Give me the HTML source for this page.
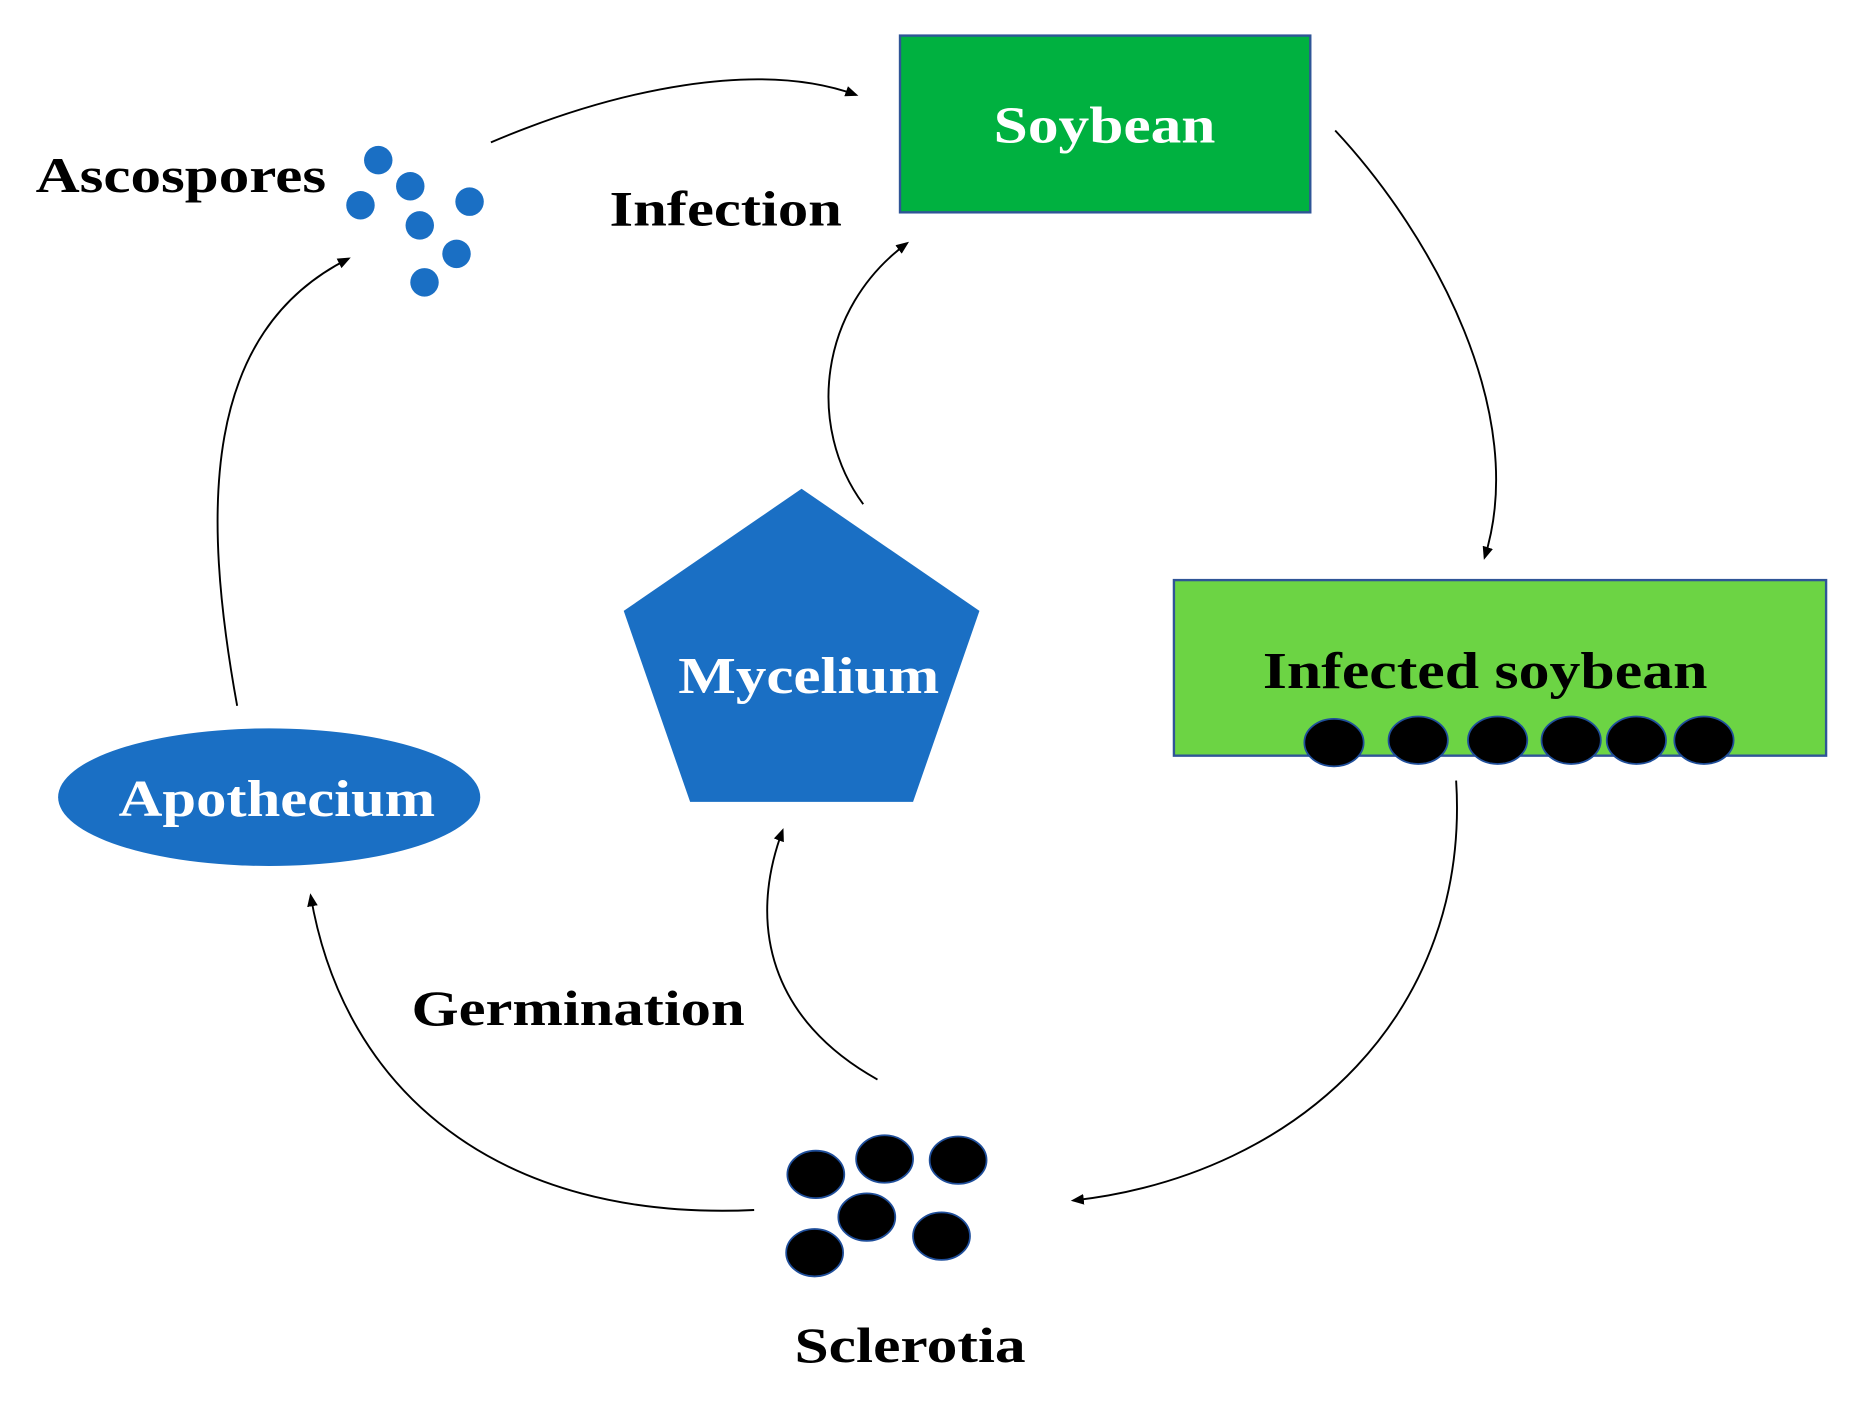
<!DOCTYPE html>
<html><head><style>html,body{margin:0;padding:0;background:#fff}svg{display:block}</style></head>
<body>
<svg width="1851" height="1401" viewBox="0 0 1561 1181" preserveAspectRatio="none" xmlns="http://www.w3.org/2000/svg" font-family="Liberation Serif, serif" font-weight="bold">
<defs>
<marker id="a" markerWidth="12" markerHeight="12" refX="9" refY="6" orient="auto" markerUnits="userSpaceOnUse">
<path d="M0,1.5 L11,6 L0,10.5 Z" fill="#000"/></marker>
</defs>
<g fill="none" stroke="#000" stroke-width="1.6" marker-end="url(#a)">
<path d="M414,120 C520,75 640,50 722,80"/>
<path d="M1126,110 C1210,200 1290,350 1252,470"/>
<path d="M1228,658 C1240,850 1100,990 905,1012"/>
<path d="M636,1020 C420,1030 290,920 262,755"/>
<path d="M740,910 C650,860 630,780 660,700"/>
<path d="M728,425 C680,360 690,260 765,205"/>
<path d="M200,595 C170,430 170,280 294,218"/>
</g>
<rect x="759" y="30" width="346" height="149" fill="#00b140" stroke="#2f5597" stroke-width="2"/>
<text x="838" y="120" font-size="44" fill="#fff" textLength="187" lengthAdjust="spacingAndGlyphs">Soybean</text>
<rect x="990" y="489" width="550" height="148" fill="#6cd444" stroke="#2f5597" stroke-width="2"/>
<text x="1065" y="580" font-size="44" fill="#000" textLength="375" lengthAdjust="spacingAndGlyphs">Infected soybean</text>
<g fill="#000" stroke="#1f4e9a" stroke-width="1.5">
<ellipse cx="1125" cy="626" rx="25" ry="20"/>
<ellipse cx="1196" cy="624" rx="25" ry="20"/>
<ellipse cx="1263" cy="624" rx="25" ry="20"/>
<ellipse cx="1325" cy="624" rx="25" ry="20"/>
<ellipse cx="1380" cy="624" rx="25" ry="20"/>
<ellipse cx="1437" cy="624" rx="25" ry="20"/>
</g>
<polygon points="676,412 826,515 770,676 582,676 526,515" fill="#1a6fc4"/>
<text x="572" y="584" font-size="44" fill="#fff" textLength="220" lengthAdjust="spacingAndGlyphs">Mycelium</text>
<ellipse cx="227" cy="672" rx="178" ry="58" fill="#1a6fc4"/>
<text x="100" y="688" font-size="44" fill="#fff" textLength="267" lengthAdjust="spacingAndGlyphs">Apothecium</text>
<g fill="#1a6fc4">
<circle cx="319" cy="135" r="12"/><circle cx="346" cy="157" r="12"/><circle cx="396" cy="170" r="12"/>
<circle cx="304" cy="173" r="12"/><circle cx="354" cy="190" r="12"/><circle cx="385" cy="214" r="12"/>
<circle cx="358" cy="238" r="12"/>
</g>
<g fill="#000" stroke="#1f4e9a" stroke-width="1.5">
<ellipse cx="688" cy="990" rx="24" ry="20"/><ellipse cx="746" cy="977" rx="24" ry="20"/>
<ellipse cx="808" cy="978" rx="24" ry="20"/><ellipse cx="731" cy="1026" rx="24" ry="20"/>
<ellipse cx="687" cy="1056" rx="24" ry="20"/><ellipse cx="794" cy="1042" rx="24" ry="20"/>
</g>
<g font-size="42" fill="#000">
<text x="30" y="162" textLength="245" lengthAdjust="spacingAndGlyphs">Ascospores</text>
<text x="514" y="190" textLength="196" lengthAdjust="spacingAndGlyphs">Infection</text>
<text x="347" y="864" textLength="281" lengthAdjust="spacingAndGlyphs">Germination</text>
<text x="670" y="1148" textLength="195" lengthAdjust="spacingAndGlyphs">Sclerotia</text>
</g>
</svg>
</body></html>
